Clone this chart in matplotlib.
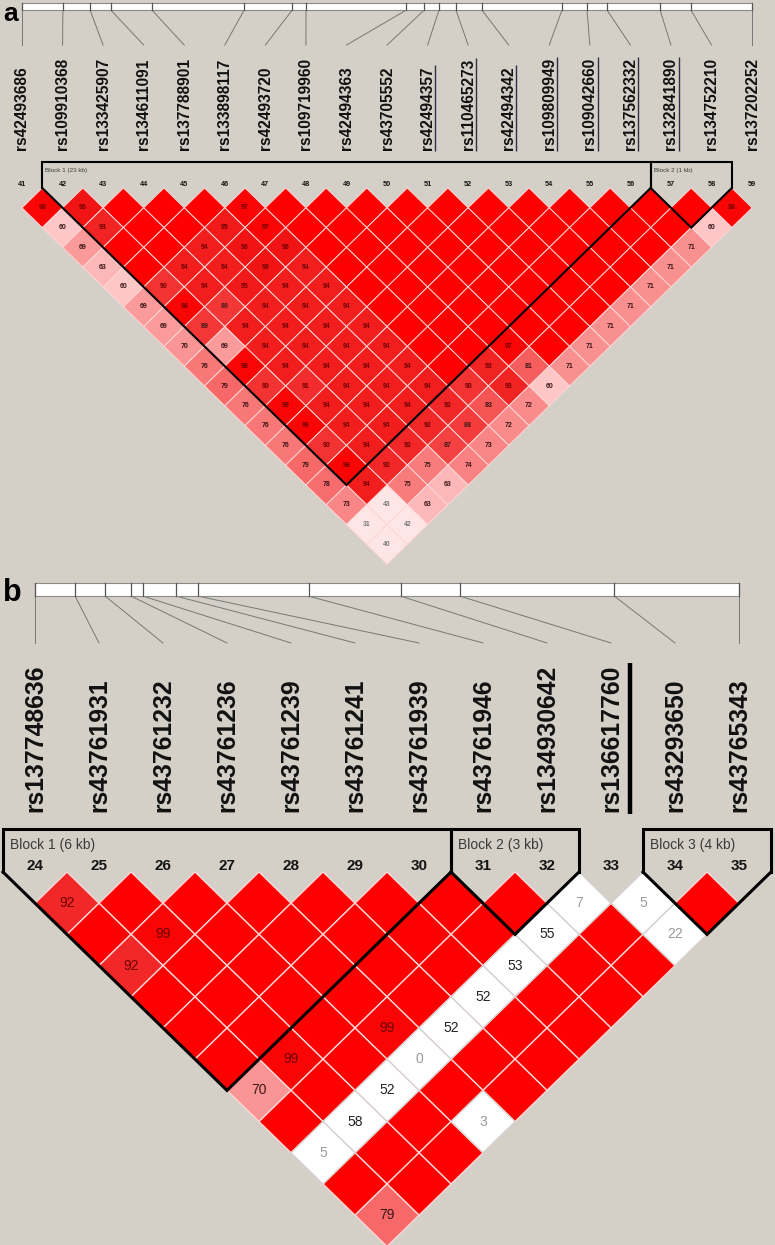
import matplotlib
matplotlib.use("Agg")
import matplotlib.pyplot as plt
from matplotlib.patches import Polygon, Rectangle

plt.rcParams["font.family"] = ["Liberation Sans", "DejaVu Sans"]

BG = "#d4d0c8"

# ---------------- panel a data ----------------
markers_a = list(range(41, 60))
snps_a = ["rs42493686", "rs109910368", "rs133425907", "rs134611091", "rs137788901",
          "rs133898117", "rs42493720", "rs109719960", "rs42494363", "rs43705552",
          "rs42494357", "rs110465273", "rs42494342", "rs109809949", "rs109042660",
          "rs137562332", "rs132841890", "rs134752210", "rs137202252"]
kb_a = [0.0, 1.73, 2.88, 3.76, 5.50, 9.39, 11.42, 12.01, 16.24, 17.00,
        17.63, 18.35, 19.45, 22.83, 23.89, 24.74, 26.98, 28.29, 30.87]
underlined_a = ["rs42494357", "rs110465273", "rs42494342", "rs109809949",
                "rs109042660", "rs137562332", "rs132841890"]
blocks_a = [(42, 56, "Block 1 (23 kb)"), (57, 58, "Block 2 (1 kb)")]
# D' x100, one list per marker distance (d = 1..18); 100 = D'=1 (no number shown)
dprime_a = [
    [98, 96, 100, 100, 100, 97, 100, 100, 100, 100, 100, 100, 100, 100, 100, 100, 100, 98],
    [60, 93, 100, 100, 95, 97, 100, 100, 100, 100, 100, 100, 100, 100, 100, 100, 60],
    [69, 100, 100, 94, 96, 96, 100, 100, 100, 100, 100, 100, 100, 100, 100, 71],
    [63, 100, 94, 94, 96, 94, 100, 100, 100, 100, 100, 100, 100, 100, 71],
    [60, 90, 94, 95, 94, 94, 100, 100, 100, 100, 100, 100, 100, 71],
    [69, 98, 89, 94, 94, 94, 100, 100, 100, 100, 100, 100, 71],
    [69, 89, 94, 94, 94, 94, 100, 100, 100, 100, 100, 71],
    [70, 69, 94, 94, 94, 94, 100, 100, 97, 100, 71],
    [76, 98, 94, 94, 94, 94, 100, 93, 81, 71],
    [79, 90, 91, 94, 94, 94, 90, 93, 60],
    [76, 98, 94, 94, 94, 92, 83, 72],
    [76, 99, 94, 94, 92, 88, 72],
    [76, 90, 94, 92, 87, 73],
    [79, 98, 92, 75, 74],
    [78, 94, 75, 63],
    [73, 43, 63],
    [31, 42],
    [40],
]

# ---------------- panel b data ----------------
markers_b = list(range(24, 36))
snps_b = ["rs137748636", "rs43761931", "rs43761232", "rs43761236", "rs43761239",
          "rs43761241", "rs43761939", "rs43761946", "rs134930642", "rs136617760",
          "rs43293650", "rs43765343"]
kb_b = [0.0, 0.88, 1.54, 2.11, 2.37, 3.10, 3.58, 6.0, 8.02, 9.32, 12.70, 15.43]
underlined_b = ["rs136617760"]
blocks_b = [(24, 30, "Block 1 (6 kb)"), (31, 32, "Block 2 (3 kb)"), (34, 35, "Block 3 (4 kb)")]
dprime_b = [
    [92, 100, 100, 100, 100, 100, 100, 100, 7, 5, 100],
    [100, 99, 100, 100, 100, 100, 100, 55, 100, 22],
    [92, 100, 100, 100, 100, 100, 53, 100, 100],
    [100, 100, 100, 100, 100, 52, 100, 100],
    [100, 100, 100, 99, 52, 100, 100],
    [100, 99, 100, 0, 100, 100],
    [70, 100, 52, 100, 100],
    [100, 58, 100, 3],
    [5, 100, 100],
    [100, 100],
    [79],
]
# pairs with LOD < 2 (drawn white)
weak_b = [(32, 33), (33, 34), (31, 33), (33, 35), (30, 33), (29, 33), (28, 33),
          (27, 33), (26, 33), (25, 33), (27, 35), (24, 33)]


def cell_colour(v, weak=False):
    if weak:
        return (1, 1, 1)
    if v >= 100:
        return (1, 0, 0)
    if v >= 97:
        return (0.98, 0.02, 0.02)
    g = min(0.9, 1.95 * (1 - v / 100))
    return (0.94 + 0.06 * g / 0.9, g, g)


def text_colour(v, weak=False):
    if weak:
        return "#9a9a9a" if v < 30 else "#222222"
    if v < 50:
        return "#7a7a7a"
    if v >= 90:
        return "#6e0000"
    return "#3e1818"


def make_axes(fig, top_px, bot_px, x0_px, dx_px, y0_px, dy_px):
    W, H = 775, 1245
    ax = fig.add_axes([0, 1 - bot_px / H, 1, (bot_px - top_px) / H])
    ax.set_xlim(-x0_px / dx_px, (W - x0_px) / dx_px)
    ax.set_ylim((bot_px - y0_px) / dy_px, (top_px - y0_px) / dy_px)
    ax.axis("off")
    ax.patch.set_alpha(0)
    return ax


def draw_panel(ax, markers, snps, kb, dprime, blocks, weak, st):
    n = len(markers)
    # genomic map bar
    span = kb[-1]
    xb = [k / span * (n - 1) for k in kb]
    ax.add_patch(Rectangle((0, st["bar_top"]), n - 1, st["bar_bot"] - st["bar_top"],
                           facecolor="white", edgecolor="#8a8a8a", lw=0.8, zorder=2))
    for i, x in enumerate(xb):
        ax.plot([x, x], [st["bar_top"], st["bar_bot"]], color="#555555", lw=0.9, zorder=3)
        ax.plot([x, i], [st["bar_bot"], st["conn_end"]], color="#777777", lw=0.7, zorder=1)
    # SNP names
    labels = []
    for i, name in enumerate(snps):
        t = ax.text(i, st["label_y"], name, rotation=90, ha="center", va="bottom",
                    fontsize=st["label_fs"], fontweight="bold", color="#111111")
        labels.append(t)
    # marker numbers
    for i, m in enumerate(markers):
        ax.text(i, -0.1, str(m), ha="center", va="center", fontsize=st["num_fs"],
                fontweight="bold", color="#151515")
    # diamonds
    for d, row in enumerate(dprime, start=1):
        for i, v in enumerate(row):
            j = i + d
            is_weak = (markers[i], markers[j]) in weak
            cx, cy = (i + j) / 2, d / 2
            ax.add_patch(Polygon([(cx, cy - 0.5), (cx + 0.5, cy), (cx, cy + 0.5), (cx - 0.5, cy)],
                                 closed=True, facecolor=cell_colour(v, is_weak),
                                 edgecolor="#d8d0d0" if is_weak else "#ffd6d6",
                                 lw=st["grid_lw"], zorder=4 if is_weak else 3))
            if v < 100:
                ax.text(cx, cy, str(v), ha="center", va="center", fontsize=st["cell_fs"],
                        fontweight=st["cell_fw"], color=text_colour(v, is_weak), zorder=6)
    # haplotype blocks
    for m0, m1, lab in blocks:
        a, b = markers.index(m0), markers.index(m1)
        left, right = a - 0.5, b + 0.5
        apex = ((a + b) / 2, (b - a) / 2 + 0.5)
        ax.plot([left, left, right, right], [0, st["box_top"], st["box_top"], 0],
                color="black", lw=st["block_lw"], zorder=7, solid_joinstyle="miter")
        ax.plot([left, apex[0], right], [0, apex[1], 0], color="black",
                lw=st["block_lw"], zorder=7, solid_joinstyle="miter")
        ax.text(left + st["blk_dx"], st["blk_y"], lab, ha="left", va="center",
                fontsize=st["blk_fs"], color="#3a3a3a")
    return labels


fig = plt.figure(figsize=(7.75, 12.45), dpi=100, facecolor=BG)

ax_a = make_axes(fig, 0, 575, 22, 40.56, 188, 39.6)
st_a = dict(bar_top=-4.67, bar_bot=-4.49, conn_end=-3.61, label_y=-0.96, label_fs=11.2,
            num_fs=5.2, grid_lw=0.7, cell_fs=5.0, cell_fw="bold", box_top=-0.66,
            block_lw=1.5, blk_dx=0.07, blk_y=-0.45, blk_fs=4.6)
lab_a = draw_panel(ax_a, markers_a, snps_a, kb_a, dprime_a, blocks_a, [], st_a)

ax_b = make_axes(fig, 575, 1245, 35, 64.0, 872, 62.4)
st_b = dict(bar_top=-4.63, bar_bot=-4.42, conn_end=-3.67, label_y=-0.96, label_fs=17.8,
            num_fs=11, grid_lw=1.0, cell_fs=10, cell_fw="normal", box_top=-0.69,
            block_lw=2.2, blk_dx=0.11, blk_y=-0.43, blk_fs=10)
lab_b = draw_panel(ax_b, markers_b, snps_b, kb_b, dprime_b, blocks_b, weak_b, st_b)

fig.text(3 / 775, 1 - 2 / 1245, "a", ha="left", va="top", fontsize=19, fontweight="bold")
fig.text(3 / 775, 1 - 578 / 1245, "b", ha="left", va="top", fontsize=22, fontweight="bold")

# underline markers of interest (vertical line beside rotated label)
fig.canvas.draw()
r = fig.canvas.get_renderer()
for ax, labels, names, off, lw, col in [(ax_a, lab_a, underlined_a, 0.19, 1.0, "#303048"),
                                         (ax_b, lab_b, underlined_b, 0.30, 3.2, "black")]:
    inv = ax.transData.inverted()
    for t in labels:
        if t.get_text() in names:
            bb = t.get_window_extent(r)
            (_, y0), (_, y1) = inv.transform([(bb.x0, bb.y0), (bb.x0, bb.y1)])
            x = t.get_position()[0] + off
            ax.plot([x, x], [y0 + 0.03, y1 - 0.03], color=col, lw=lw, solid_capstyle="butt")

fig.savefig("out.png", dpi=100, facecolor=BG)
